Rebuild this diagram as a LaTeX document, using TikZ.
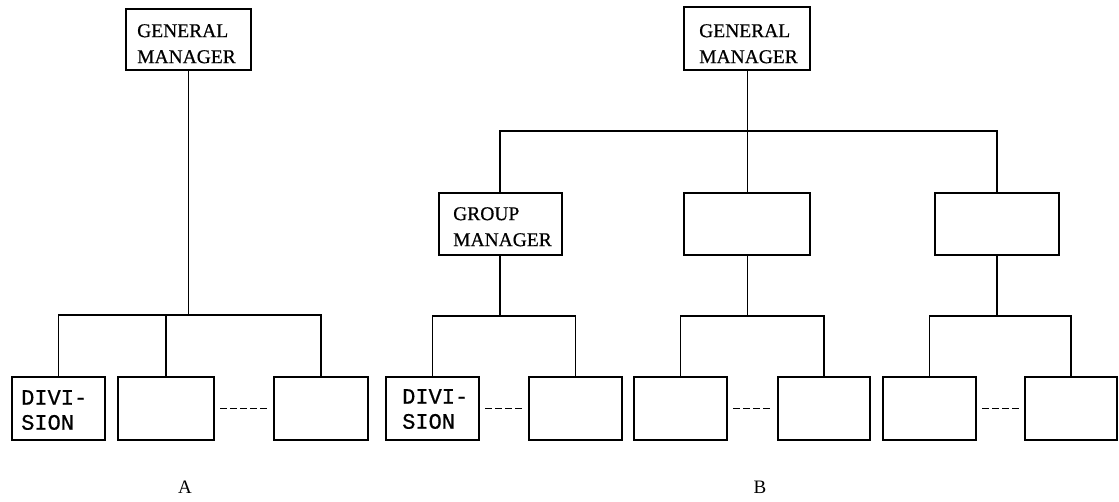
\documentclass[tikz,border=0pt]{standalone}
\usepackage{fontspec}
\setmainfont{Liberation Serif}
\newfontfamily\boxfont[FakeBold=0.6]{Liberation Serif}
\newfontfamily\typew[FakeBold=0.6]{Liberation Mono}
\begin{document}
\begin{tikzpicture}[x=1pt,y=-1pt,
  box/.style={draw, line width=2pt, inner sep=0pt},
  txt/.style={anchor=north west, inner sep=0pt, align=left,
    font=\boxfont\fontsize{19.5}{26}\selectfont},
  divtxt/.style={anchor=north west, inner sep=0pt, align=left,
    font=\typew\fontsize{22}{25}\selectfont},
  conn/.style={line width=1.4pt},
  thin/.style={line width=0.9pt},
  dots/.style={line width=1.8pt, dash pattern=on 7pt off 3pt, shorten >=5pt, shorten <=5pt},
  lab/.style={font=\fontsize{19}{22}\selectfont, inner sep=0pt}]
\useasboundingbox (0,0) rectangle (1119,501);
% ---------- A ----------
\node[box, minimum width=125pt, minimum height=61pt] (gmA) at (188,39.5) {};
\node[txt] (gmAt) at (137,24) {GENERAL\\MANAGER};
\node[box, minimum width=93pt, minimum height=63pt] (a1) at (58.5,408.5) {};
\node[divtxt] (a1t) at (21,390) {DIVI-\\SION};
\node[box, minimum width=96pt, minimum height=63pt] (a2) at (166,408.5) {};
\node[box, minimum width=94pt, minimum height=63pt] (a3) at (321,408.5) {};
\coordinate (barA) at (188,315);
\draw[thin] (gmA.south) -- (barA);
\draw[conn] (a1.north) |- (barA) -| (a3.north);
\draw[conn] (a2.north) -- (a2.north |- barA);
\draw[dots] (a2.east) -- (a3.west);
\node[lab] (labA) at (185,487) {A};
% ---------- B ----------
\node[box, minimum width=126pt, minimum height=63pt] (gmB) at (747,38.5) {};
\node[txt] (gmBt) at (699,24) {GENERAL\\MANAGER};
\coordinate (barB) at (747,131);
\node[box, minimum width=123pt, minimum height=62pt] (g1) at (500,224) {};
\node[txt] (g1t) at (453,207) {GROUP\\MANAGER};
\node[box, minimum width=126pt, minimum height=62pt] (g2) at (747,224) {};
\node[box, minimum width=124pt, minimum height=62pt] (g3) at (997,224) {};
\draw[thin] (gmB.south) -- (barB);
\draw[conn] (g1.north) |- (barB) -| (g3.north);
\draw[thin] (g2.north) -- (g2.north |- barB);
% group 1
\node[box, minimum width=93pt, minimum height=63pt] (b11) at (432.5,408.5) {};
\node[divtxt] (b11t) at (402,389) {DIVI-\\SION};
\node[box, minimum width=93pt, minimum height=63pt] (b12) at (575.5,408.5) {};
\coordinate (bar1) at (500,316);
\draw[conn] (g1.south) -- (bar1);
\draw[conn] (b11.north) |- (bar1) -| (b12.north);
\draw[dots] (b11.east) -- (b12.west);
% group 2
\node[box, minimum width=93pt, minimum height=63pt] (b21) at (680.5,408.5) {};
\node[box, minimum width=92pt, minimum height=63pt] (b22) at (824,408.5) {};
\coordinate (bar2) at (747,316);
\draw[thin] (g2.south) -- (bar2);
\draw[conn] (b21.north) |- (bar2) -| (b22.north);
\draw[dots] (b21.east) -- (b22.west);
% group 3
\node[box, minimum width=93pt, minimum height=63pt] (b31) at (929.5,408.5) {};
\node[box, minimum width=92pt, minimum height=63pt] (b32) at (1071,408.5) {};
\coordinate (bar3) at (997,316);
\draw[conn] (g3.south) -- (bar3);
\draw[conn] (b31.north) |- (bar3) -| (b32.north);
\draw[dots] (b31.east) -- (b32.west);
\node[lab] (labB) at (760,487) {B};
\end{tikzpicture}
\end{document}
